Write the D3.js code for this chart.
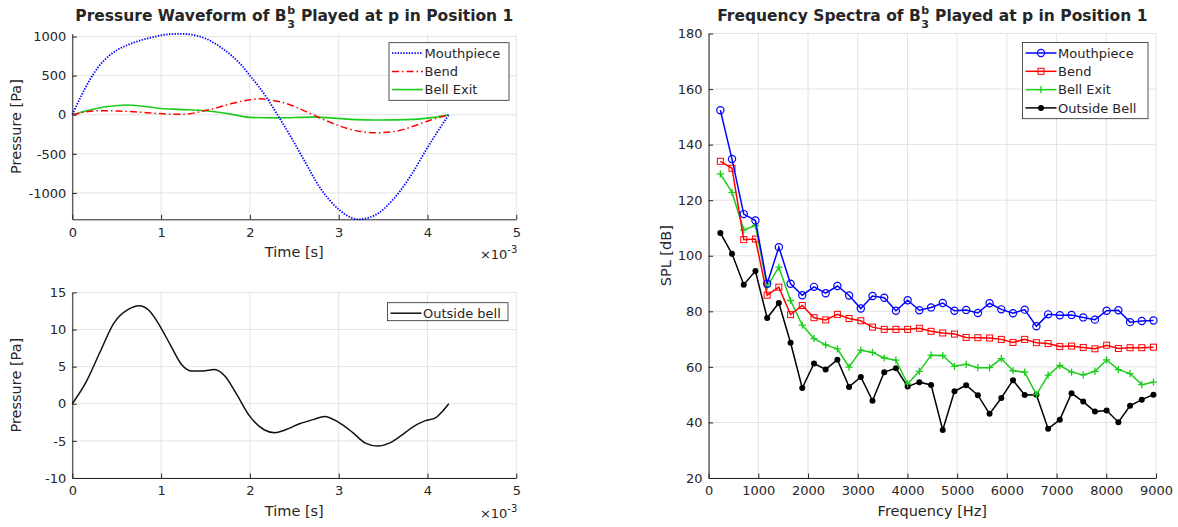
<!DOCTYPE html>
<html>
<head>
<meta charset="utf-8">
<script src="https://cdn.jsdelivr.net/npm/d3@7"></script>
<style>
  body { margin: 0; background: #fff; }
  svg text { font-family: "DejaVu Sans", sans-serif; fill: #262626; white-space: pre; }
</style>
</head>
<body>
<div id="chart-container"></div>
<script>
// ---- waveform data (time in ms, pressure in Pa) ----
const tMouth = [0, 0.1, 0.2, 0.3, 0.4, 0.5, 0.6, 0.7, 0.8, 0.9, 1.0, 1.1, 1.2, 1.3, 1.4, 1.5, 1.6, 1.7, 1.8, 1.9, 2.0, 2.1, 2.2, 2.31, 2.45, 2.6, 2.8, 3.0, 3.22, 3.4, 3.6, 3.8, 4.0, 4.1, 4.24];
const pMouth = [0, 240, 450, 620, 740, 825, 880, 925, 962, 990, 1015, 1030, 1035, 1030, 1010, 975, 915, 840, 750, 640, 500, 360, 200, 0, -260, -560, -950, -1210, -1337, -1290, -1100, -800, -420, -240, 0];

const tBend = [0, 0.15, 0.31, 0.5, 0.69, 0.88, 1.06, 1.25, 1.44, 1.63, 1.81, 2.0, 2.12, 2.25, 2.34, 2.5, 2.71, 2.9, 3.09, 3.25, 3.43, 3.65, 3.84, 4.03, 4.24];
const pBend = [0, 35, 51, 48, 38, 22, 9, 5, 38, 90, 146, 192, 203, 185, 166, 105, 0, -95, -174, -215, -230, -210, -147, -70, 0];

const tBell = [0, 0.2, 0.4, 0.6, 0.8, 1.0, 1.2, 1.5, 1.8, 2.0, 2.3, 2.71, 3.09, 3.46, 3.84, 4.07, 4.24];
const pBell = [0, 60, 105, 125, 108, 80, 68, 51, 5, -34, -40, -30, -56, -68, -60, -34, 0];

const tOut = [0, 0.15, 0.31, 0.47, 0.63, 0.75, 0.87, 0.99, 1.11, 1.23, 1.35, 1.47, 1.6, 1.72, 1.84, 2.0, 2.16, 2.28, 2.4, 2.56, 2.72, 2.84, 3.0, 3.16, 3.3, 3.44, 3.57, 3.69, 3.85, 3.97, 4.09, 4.17, 4.24];
const pOut = [0, 2.8, 6.9, 10.9, 12.7, 13.2, 12.5, 10.4, 7.8, 5.3, 4.4, 4.4, 4.6, 3.7, 1.5, -1.7, -3.5, -3.9, -3.5, -2.7, -2.1, -1.7, -2.5, -3.9, -5.3, -5.7, -5.3, -4.4, -3.0, -2.3, -1.9, -1.0, 0];

// ---- spectra data (harmonic frequency in Hz, SPL in dB) ----
const freqs = [236, 471, 707, 942, 1178, 1413, 1649, 1884, 2120, 2355, 2591, 2826, 3062, 3297, 3533, 3768, 4004, 4239, 4475, 4710, 4946, 5181, 5417, 5652, 5888, 6123, 6359, 6594, 6830, 7065, 7301, 7536, 7772, 8007, 8243, 8478, 8714, 8949];
const splMouth = [152.4, 134.8, 115.0, 112.7, 89.9, 103.1, 89.9, 85.8, 88.8, 86.5, 89.1, 85.7, 81.0, 85.5, 84.9, 80.2, 84.0, 80.4, 81.4, 83.0, 80.2, 80.5, 79.4, 82.9, 80.7, 79.3, 80.6, 74.6, 78.9, 78.6, 78.7, 77.8, 77.0, 80.2, 80.4, 76.1, 76.5, 76.7];
const splBend = [134.0, 131.5, 105.8, 106.0, 85.8, 88.7, 78.8, 82.1, 77.7, 76.9, 78.9, 77.4, 76.6, 74.3, 73.5, 73.5, 73.5, 73.9, 72.8, 72.2, 71.8, 70.6, 70.5, 70.4, 69.9, 68.8, 69.9, 68.7, 68.4, 67.3, 67.5, 67.0, 66.5, 67.8, 66.6, 66.9, 66.9, 67.1];
const splBell = [129.5, 122.8, 109.3, 110.9, 88.9, 95.9, 83.9, 75.0, 70.2, 67.9, 66.5, 59.9, 66.0, 65.2, 63.2, 62.4, 53.9, 58.4, 64.2, 64.1, 60.2, 60.9, 59.7, 59.7, 63.0, 58.6, 58.1, 50.0, 57.0, 60.5, 58.1, 57.1, 58.4, 62.5, 59.0, 57.6, 53.6, 54.5];
const splOut = [108.2, 100.7, 89.6, 94.5, 77.6, 83.0, 68.7, 52.4, 61.2, 59.1, 62.6, 52.8, 56.4, 47.8, 58.1, 59.5, 52.9, 54.5, 53.5, 37.3, 51.2, 53.4, 49.8, 43.1, 48.8, 55.2, 49.9, 50.0, 37.7, 41.0, 50.5, 47.5, 43.9, 44.3, 40.1, 46.0, 48.2, 50.0];

// tick labels
const timeTicks = [0, 1, 2, 3, 4, 5];
const wavePTicks = [-1000, -500, 0, 500, 1000];
const outPTicks = [-10, -5, 0, 5, 10, 15];
const freqTicks = [0, 1000, 2000, 3000, 4000, 5000, 6000, 7000, 8000, 9000];
const splTicks = [20, 40, 60, 80, 100, 120, 140, 160, 180];

const AX = "#262626";
const GRID = "#e3e3e3";

const svg = d3.select("#chart-container")
  .append("svg")
    .attr("width", 1178)
    .attr("height", 527);

// panel boxes (left, top, right, bottom)
const boxTop = {l: 72.3, t: 33.7, r: 516.3, b: 219.3};
const boxBot = {l: 72.3, t: 292.4, r: 516.3, b: 478};
const boxSpec = {l: 708.6, t: 33.5, r: 1156, b: 478};

function drawAxes(box, x, y, xt, yt) {
  const g = svg.append("g");
  // grid
  g.append("g").selectAll("line").data(xt).join("line")
    .attr("x1", d => x(d)).attr("x2", d => x(d))
    .attr("y1", box.t).attr("y2", box.b)
    .attr("stroke", GRID).attr("stroke-width", 1);
  g.append("g").selectAll("line").data(yt).join("line")
    .attr("x1", box.l).attr("x2", box.r)
    .attr("y1", d => y(d)).attr("y2", d => y(d))
    .attr("stroke", GRID).attr("stroke-width", 1);

  // x axis, ticks pointing inward
  const xa = g.append("g")
    .attr("transform", `translate(0,${box.b})`)
    .call(d3.axisBottom(x).tickValues(xt).tickFormat(d => String(d))
      .tickSizeInner(-4.5).tickSizeOuter(0).tickPadding(8));
  // y axis
  const ya = g.append("g")
    .attr("transform", `translate(${box.l},0)`)
    .call(d3.axisLeft(y).tickValues(yt).tickFormat(d => String(d))
      .tickSizeInner(-4.5).tickSizeOuter(0).tickPadding(6));
  [xa, ya].forEach(a => {
    a.select(".domain").attr("stroke", AX).attr("stroke-width", 1);
    a.selectAll(".tick line").attr("stroke", AX);
    a.selectAll("text").style("font-size", "13px").attr("fill", AX);
  });
  return g;
}

function axisLabels(box, xlab, ylab, ylabX, xlabY) {
  svg.append("text")
    .attr("x", (box.l + box.r) / 2)
    .attr("y", xlabY)
    .attr("text-anchor", "middle")
    .style("font-size", "14.5px")
    .text(xlab);
  svg.append("text")
    .attr("transform", `translate(${ylabX},${(box.t + box.b) / 2}) rotate(-90)`)
    .attr("text-anchor", "middle")
    .style("font-size", "14.5px")
    .text(ylab);
}

function exponent(box, yPos) {
  const t = svg.append("text")
    .attr("x", box.r + 1)
    .attr("y", yPos)
    .attr("text-anchor", "end")
    .style("font-size", "13px");
  t.append("tspan").text("\u00d710");
  t.append("tspan").attr("dy", -6).style("font-size", "10px").text("-3");
}

// title with stacked super/subscript after B
function title(cx, baseY, before, after) {
  const g = svg.append("g").style("font-size", "15.5px").style("font-weight", "bold");
  const a = g.append("text").attr("y", baseY).text(before);
  const wa = a.node().getComputedTextLength();
  const sup = g.append("text").attr("x", wa + 0.5).attr("y", baseY - 7).style("font-size", "11px").text("b");
  const sub = g.append("text").attr("x", wa + 0.5).attr("y", baseY + 6.5).style("font-size", "11px").text("3");
  const ws = Math.max(sup.node().getComputedTextLength(), sub.node().getComputedTextLength());
  const b = g.append("text").attr("x", wa + ws + 1).attr("y", baseY).text(after);
  const total = wa + ws + 1 + b.node().getComputedTextLength();
  g.attr("transform", `translate(${cx - total / 2},0)`);
}

function legend(x0, y0, w, rows, rowH) {
  const g = svg.append("g");
  g.append("rect")
    .attr("x", x0).attr("y", y0)
    .attr("width", w).attr("height", rows.length * rowH + 3)
    .attr("fill", "#fff").attr("stroke", AX).attr("stroke-width", 0.8);
  rows.forEach((r, i) => {
    const cy = y0 + 10.5 + i * rowH;
    g.append("line")
      .attr("x1", x0 + 3).attr("x2", x0 + 34)
      .attr("y1", cy).attr("y2", cy)
      .attr("stroke", r.color).attr("stroke-width", r.width)
      .attr("stroke-dasharray", r.dash || null);
    if (r.marker) r.marker(g, x0 + 18.5, cy);
    g.append("text")
      .attr("x", x0 + 35.5).attr("y", cy + 4.6)
      .style("font-size", "13px")
      .text(r.label);
  });
}

// ---------- top-left: pressure waveform ----------
const xTop = d3.scaleLinear().domain([0, 5]).range([boxTop.l, boxTop.r]);
const yTop = d3.scaleLinear().domain([-1337, 1036]).range([boxTop.b, boxTop.t]);
drawAxes(boxTop, xTop, yTop, timeTicks, wavePTicks);

const lineTop = d3.line().x(d => xTop(d[0])).y(d => yTop(d[1])).curve(d3.curveMonotoneX);
const dMouth = d3.zip(tMouth, pMouth);
const dBend = d3.zip(tBend, pBend);
const dBell = d3.zip(tBell, pBell);

svg.append("path").datum(dBell)
  .attr("fill", "none").attr("stroke", "#1ccc1c").attr("stroke-width", 1.6)
  .attr("d", lineTop);
svg.append("path").datum(dBend)
  .attr("fill", "none").attr("stroke", "#ff0000").attr("stroke-width", 1.5)
  .attr("stroke-dasharray", "7,3,1.5,3")
  .attr("d", lineTop);
svg.append("path").datum(dMouth)
  .attr("fill", "none").attr("stroke", "#0000ff").attr("stroke-width", 1.8)
  .attr("stroke-dasharray", "1.4,1.4")
  .attr("d", lineTop);

axisLabels(boxTop, "Time [s]", "Pressure [Pa]", 21, 257);
exponent(boxTop, 259);
title((boxTop.l + boxTop.r) / 2, 21, "Pressure Waveform of B", " Played at p in Position 1");

legend(389, 42.7, 120, [
  {label: "Mouthpiece", color: "#0000ff", width: 1.8, dash: "1.4,1.4"},
  {label: "Bend", color: "#ff0000", width: 1.5, dash: "7,3,1.5,3"},
  {label: "Bell Exit", color: "#1ccc1c", width: 1.6}
], 18.2);

// ---------- bottom-left: outside bell ----------
const xBot = d3.scaleLinear().domain([0, 5]).range([boxBot.l, boxBot.r]);
const yBot = d3.scaleLinear().domain([-10, 15]).range([boxBot.b, boxBot.t]);
drawAxes(boxBot, xBot, yBot, timeTicks, outPTicks);

const lineBot = d3.line().x(d => xBot(d[0])).y(d => yBot(d[1])).curve(d3.curveMonotoneX);
svg.append("path").datum(d3.zip(tOut, pOut))
  .attr("fill", "none").attr("stroke", "#111").attr("stroke-width", 1.5)
  .attr("d", lineBot);

axisLabels(boxBot, "Time [s]", "Pressure [Pa]", 21, 516);
exponent(boxBot, 518);

legend(387.5, 302.7, 120.5, [
  {label: "Outside bell", color: "#111", width: 1.5}
], 15);

// ---------- right: frequency spectra ----------
const xSpec = d3.scaleLinear().domain([0, 9000]).range([boxSpec.l, boxSpec.r]);
const ySpec = d3.scaleLinear().domain([20, 180]).range([boxSpec.b, boxSpec.t]);
drawAxes(boxSpec, xSpec, ySpec, freqTicks, splTicks);

const lineSpec = d3.line().x(d => xSpec(d[0])).y(d => ySpec(d[1]));

// marker painters
const circleOpen = color => (g, cx, cy) => g.append("circle")
  .attr("cx", cx).attr("cy", cy).attr("r", 3.6)
  .attr("fill", "none").attr("stroke", color).attr("stroke-width", 1.2);
const squareOpen = color => (g, cx, cy) => g.append("rect")
  .attr("x", cx - 3).attr("y", cy - 3).attr("width", 6).attr("height", 6)
  .attr("fill", "none").attr("stroke", color).attr("stroke-width", 1);
const plusMark = color => (g, cx, cy) => g.append("path")
  .attr("d", `M${cx - 3.6},${cy}H${cx + 3.6}M${cx},${cy - 3.6}V${cy + 3.6}`)
  .attr("stroke", color).attr("stroke-width", 1.3);
const dotFill = color => (g, cx, cy) => g.append("circle")
  .attr("cx", cx).attr("cy", cy).attr("r", 3)
  .attr("fill", color);

const spectra = [
  {label: "Mouthpiece", values: splMouth, color: "#0000ff", marker: circleOpen("#0000ff")},
  {label: "Bend", values: splBend, color: "#ff0000", marker: squareOpen("#ff0000")},
  {label: "Bell Exit", values: splBell, color: "#1ccc1c", marker: plusMark("#1ccc1c")},
  {label: "Outside Bell", values: splOut, color: "#000000", marker: dotFill("#000000")}
];

// draw in reverse so mouthpiece ends up on top
spectra.slice().reverse().forEach(s => {
  const data = d3.zip(freqs, s.values);
  svg.append("path").datum(data)
    .attr("fill", "none").attr("stroke", s.color).attr("stroke-width", 1.5)
    .attr("d", lineSpec);
  const mg = svg.append("g");
  data.forEach(d => s.marker(mg, xSpec(d[0]), ySpec(d[1])));
});

axisLabels(boxSpec, "Frequency [Hz]", "SPL [dB]", 671, 516);
title((boxSpec.l + boxSpec.r) / 2, 21, "Frequency Spectra of B", " Played at p in Position 1");

legend(1022.5, 42.5, 125.5, spectra.map(s => ({label: s.label, color: s.color, width: 1.5, marker: s.marker})), 18.3);
</script>
</body>
</html>
